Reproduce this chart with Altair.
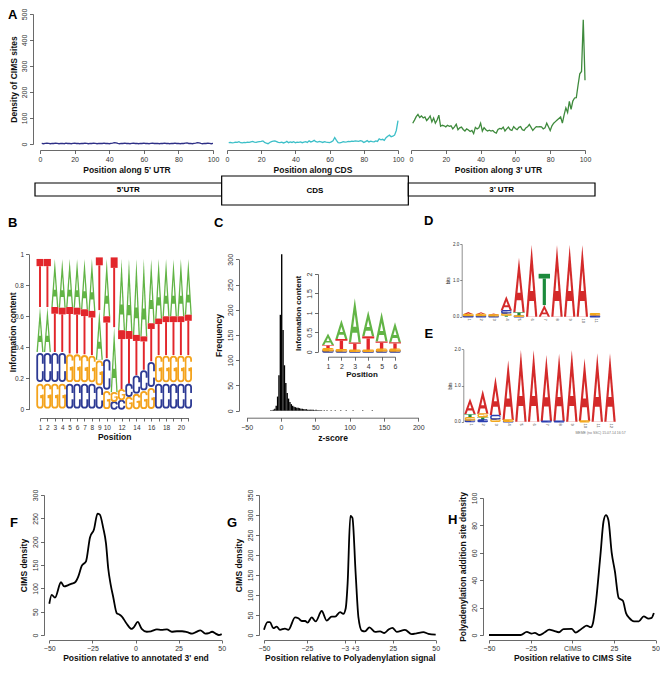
import altair as alt
import pandas as pd

FONT = "Liberation Sans"
AXC = "#444444"

# ---------------- data ----------------
positions = list(range(1, 101))
utr5_density = [2, 1, 2, 3, 2, 1, 2, 2, 3, 2, 1, 2, 2, 1, 3, 2, 2, 1, 2, 3,
                2, 2, 1, 2, 2, 3, 2, 1, 2, 2, 3, 2, 1, 2, 2, 2, 3, 2, 2, 1,
                2, 3, 5, 4, 2, 1, 2, 2, 3, 2, 2, 1, 2, 3, 2, 2, 1, 2, 2, 3,
                2, 2, 1, 2, 3, 2, 2, 2, 1, 2, 2, 3, 2, 2, 1, 2, 2, 3, 2, 2,
                1, 2, 2, 3, 4, 2, 2, 1, 2, 3, 5, 4, 2, 1, 2, 2, 3, 2, 1, 2]
cds_density = [5, 6, 4, 5, 7, 6, 9, 5, 4, 6, 5, 7, 6, 8, 10, 7, 6, 8, 9, 10,
               12, 6, 3, 1, 6, 9, 11, 12, 9, 6, 5, 7, 4, 6, 10, 5, 8, 6, 9, 5,
               7, 6, 8, 5, 7, 9, 6, 12, 8, 10, 14, 9, 7, 10, 8, 6, 9, 7, 6, 5,
               8, 12, 25, 14, 5, 4, 6, 9, 7, 8, 10, 9, 11, 10, 12, 11, 10, 13, 11, 6,
               9, 13, 8, 11, 9, 8, 12, 10, 20, 16, 18, 14, 24, 30, 34, 28, 30, 34, 52, 90]
utr3_density = [80, 92, 105, 114, 102, 108, 100, 104, 90, 98, 108, 85, 100, 80, 92, 111, 68, 72, 70, 66,
                72, 68, 70, 58, 66, 76, 55, 62, 65, 56, 50, 58, 54, 48, 52, 40, 64, 58, 62, 80,
                50, 63, 55, 50, 53, 50, 52, 45, 42, 56, 60, 58, 65, 50, 58, 65, 55, 52, 67, 60,
                55, 64, 67, 55, 52, 62, 66, 75, 64, 52, 60, 67, 66, 67, 66, 58, 62, 80, 66, 52,
                70, 80, 86, 92, 98, 104, 80, 112, 139, 121, 164, 133, 165, 177, 178, 226, 270, 279, 478, 245]

gene_parts = ["5\u2019UTR", "CDS", "3\u2019 UTR"]
gene_start = [0, 1, 2]
gene_end = [1, 2, 3]
gene_low = [9, 0, 9]
gene_high = [22, 29, 22]

# panel B logo (probability, 21 positions)
B_A = [.29, .29, .31, .315, .31, .315, .325, .335, .32, .37, .42, .46, .465, .49, .50, .415, .385, .37, .37, .37, .36]
B_C = [.20, .20, .20, .20, .17, .17, .17, .17, .15, .21, .05, .06, .085, .12, .135, .17, .17, .17, .17, .17, .17]
B_G = [.17, .17, .17, .17, .19, .19, .185, .18, .17, .12, .06, .07, .08, .10, .12, .14, .18, .18, .18, .18, .18]
B_T = [.31, .31, .29, .285, .30, .295, .29, .285, .34, .27, .45, .38, .34, .26, .215, .245, .235, .25, .25, .25, .26]

# panel C histogram of z-scores
hist_left = [-16, -14, -12, -10, -8, -6, -4, -2, 0, 2, 4, 6, 8, 10, 12, 14, 16, 18, 20, 22,
             24, 26, 28, 30, 32, 34, 36, 38, 40, 42, 44, 46, 48, 50, 52, 54, 56, 58,
             62, 66, 72, 78, 86, 94, 104, 118, 132]
hist_count = [1, 1, 2, 4, 10, 28, 70, 190, 310, 160, 90, 55, 35, 24, 17, 13, 10, 8, 7, 6,
              6, 5, 4, 4, 3, 3, 3, 2, 2, 2, 2, 2, 1, 2, 1, 1, 1, 1,
              1, 1, 1, 1, 1, 1, 1, 1, 1]

# panel C inset logo (bits, 6 positions)
I_A = [.30, .50, 1.14, .66, .76, .52]
I_C = [.03, .02, .015, .015, .02, .02]
I_G = [.04, .025, .02, .02, .04, .04]
I_T = [.10, .28, .20, .36, .20, .18]

# panel D logo (bits, 11 positions)
D_A = [.07, .06, .04, .40, 1.50, 1.97, .32, 1.97, 1.97, 1.97, .03]
D_C = [.01, .01, .01, .07, .01, 0, 0, 0, 0, 0, .01]
D_G = [.03, .03, .02, .06, .012, 0, 0, 0, 0, 0, .03]
D_T = [.02, .02, .015, .04, .10, 0, .86, 0, 0, 0, .01]

# panel E logo (bits, 12 positions)
E_A = [.44, .66, 1.07, 1.65, 1.98, 1.98, 1.83, 1.86, 1.98, 1.73, 1.89, 1.89]
E_C = [.04, .05, .11, .01, 0, 0, .015, .015, 0, 0, 0, 0]
E_G = [.07, .09, .06, .04, 0, 0, 0, 0, 0, .02, 0, 0]
E_T = [.10, .08, .01, 0, 0, 0, 0, 0, 0, 0, 0, 0]

# panels F, G, H density curves
F_x = [-50, -48.6, -46.7, -43.2, -41.4, -39, -37, -35, -33.2, -31.2, -28.7, -26.4, -24.1, -22, -20.7,
       -18.7, -17.1, -15.8, -14.4, -12.9, -10.9, -9.4, -8, -5.1, -2.2, -0.9, 1.3, 3.6, 6.5, 9, 12.4,
       15, 18.2, 21, 24, 27, 30, 32.8, 35, 37.6, 40.5, 42.5, 44.4, 46.5, 48.3, 50]
F_y = [67, 86, 80, 113, 104, 107, 110, 113, 125, 148, 158, 209, 226, 260, 258,
       229, 196, 142, 108, 81, 47, 44, 40, 24, 13, 17, 28, 13, 7, 8, 12,
       11, 12, 7, 8, 8, 6, 3, 6, 10, 3, 4, 7, 3, 0, 2]
G_x = [-50, -47.9, -46.5, -44.6, -42.6, -40.7, -37.8, -35.8, -31.9, -30, -28, -26, -24.6, -22.2,
       -19.9, -16.4, -13.5, -10.6, -8.6, -5.7, -3.8, -2.4, -1.3, 0.3, 1.5, 3.4, 5, 6.9, 8.8, 11.4,
       14.7, 17.6, 20.1, 22.4, 24.8, 27.3, 32.1, 36, 38.9, 42.8, 45.7, 50]
G_y = [13, 32, 32, 17, 21, 13, 16, 13, 44, 42, 35, 35, 31, 44,
       34, 60, 36, 46, 46, 57, 53, 67, 129, 298, 293, 152, 44, 11, 9, 19,
       8, 9, 5, 13, 18, 8, 13, 2, 4, 7, 3, 1]
H_x = [-50, -31, -27.3, -24.4, -22.5, -19.6, -16.7, -13.8, -11, -8, -5.2, -0.4, 2.1, 4.4, 6.3,
       8.7, 11.2, 12.5, 14, 16.9, 18.8, 20.2, 21.7, 23.7, 25.6, 27.9, 30.4, 32.3, 34.2, 37.1,
       40, 42.9, 45.8, 47.7, 49]
H_y = [0, 0, 2.3, 1, 1.6, 0, 1.8, 3.9, 3, 2, 4.3, 4.5, 1.8, 3.4, 5.2,
       6.8, 5.7, 9, 21.6, 58, 83, 87.5, 84, 60, 46.6, 27, 25, 16, 12.5, 10,
       10, 13.6, 12, 12.5, 16]

# ---------------- layout ----------------
COLW = [200, 200, 252]
ROWH = [160, 52, 263, 180]
H3 = ROWH[2]
H4 = ROWH[3]

PAL_B = {"A": "#62B446", "C": "#2D3A94", "G": "#F4A31C", "T": "#E2262B"}
PAL_M = {"A": "#D42A2A", "C": "#2A3DB0", "G": "#F2A81D", "T": "#1C8A3C"}


def axis(**kw):
    base = dict(grid=False, domainColor=AXC, tickColor=AXC, labelColor="#333333",
                labelFont=FONT, labelFontSize=7, titleFont=FONT, titleFontSize=8.5,
                titleFontWeight="bold", titleColor="#111111", tickSize=3.5,
                labelPadding=2, titlePadding=3, domainWidth=0.8, tickWidth=0.8,
                labelOverlap=False, labelFlush=False)
    base.update(kw)
    return alt.Axis(**base)


def yaxis_rot(values, title, offset, **kw):
    return axis(orient="left", values=values, title=title, offset=offset,
                labelAngle=270, labelAlign="center", labelBaseline="bottom", **kw)


def sc(domain, rng):
    return alt.Scale(domain=domain, range=rng, nice=False, zero=False)


def ptitle(letter, dx, dy):
    return alt.TitleParams(text=letter, anchor="start", frame="group", orient="top",
                           fontSize=13, fontWeight="bold", font=FONT, color="black",
                           offset=0, dx=dx, dy=dy)


def line_chart(xs, ys, color, sw, xscale, yscale, xaxis, yaxis, w, h, title=None, interp="linear"):
    df = pd.DataFrame({"x": xs, "y": ys})
    ch = alt.Chart(df).mark_line(color=color, strokeWidth=sw, interpolate=interp).encode(
        x=alt.X("x:Q", scale=xscale, axis=xaxis),
        y=alt.Y("y:Q", scale=yscale, axis=yaxis))
    props = dict(width=w, height=h)
    if title is not None:
        props["title"] = title
    return ch.properties(**props)


def logo_tables(heights, hw):
    letters = list(heights.keys())
    n = len(heights[letters[0]])
    t = {k: [] for k in ["A", "hole", "tbar", "tstem", "ring", "cgap", "ggap", "gbar"]}
    gid = 0
    for i in range(n):
        p = i + 1
        items = sorted((heights[L][i], k, L) for k, L in enumerate(letters) if heights[L][i] > 0)
        b = 0.0
        for h, _, L in items:
            gid += 1
            if L == "A":
                t["A"] += [dict(gid=gid, letter=L, xa=p - hw, ya=b, yb=b),
                           dict(gid=gid, letter=L, xa=p, ya=b + h, yb=b),
                           dict(gid=gid, letter=L, xa=p + hw, ya=b, yb=b)]
                c0 = b + 0.36 * h
                t["hole"] += [dict(gid="c%d" % gid, xa=p - 0.26 * hw, ya=c0, yb=c0),
                              dict(gid="c%d" % gid, xa=p, ya=b + 0.64 * h, yb=c0),
                              dict(gid="c%d" % gid, xa=p + 0.26 * hw, ya=c0, yb=c0)]
                t["hole"] += [dict(gid="l%d" % gid, xa=p - 0.62 * hw, ya=b, yb=b),
                              dict(gid="l%d" % gid, xa=p - 0.40 * hw, ya=b + 0.22 * h, yb=b),
                              dict(gid="l%d" % gid, xa=p + 0.40 * hw, ya=b + 0.22 * h, yb=b),
                              dict(gid="l%d" % gid, xa=p + 0.62 * hw, ya=b, yb=b)]
            elif L == "T":
                t["tbar"].append(dict(letter=L, xa=p - hw, xb=p + hw, ya=b + 0.85 * h, yb=b + h))
                t["tstem"].append(dict(letter=L, xa=p - 0.28 * hw, xb=p + 0.28 * hw, ya=b, yb=b + 0.85 * h))
            else:
                t["ring"].append(dict(letter=L, xa=p - 0.8 * hw, xb=p + 0.8 * hw,
                                      ya=b + 0.06 * h, yb=b + 0.94 * h))
                if L == "C":
                    t["cgap"].append(dict(xa=p + 0.2 * hw, xb=p + 1.1 * hw, ya=b + 0.38 * h, yb=b + 0.62 * h))
                else:
                    t["ggap"].append(dict(xa=p + 0.2 * hw, xb=p + 1.1 * hw, ya=b + 0.56 * h, yb=b + 0.76 * h))
                    t["gbar"].append(dict(letter=L, xa=p + 0.05 * hw, xb=p + 0.8 * hw,
                                          ya=b + 0.42 * h, yb=b + 0.54 * h))
            b += h
    return t


def logo_layers(heights, palette, hw, sw, cr, X, Y):
    t = logo_tables(heights, hw)
    cs = alt.Scale(domain=list(palette.keys()), range=list(palette.values()))
    col = alt.Color("letter:N", scale=cs, legend=None)
    out = []

    def ch(rows):
        return alt.Chart(pd.DataFrame(rows))

    if t["A"]:
        out.append(ch(t["A"]).mark_area(orient="vertical", interpolate="linear", opacity=1).encode(
            x=X(), y=Y(), y2=alt.Y2("yb"), detail="gid:N", color=col))
    if t["hole"]:
        out.append(ch(t["hole"]).mark_area(orient="vertical", interpolate="linear", color="white", opacity=1).encode(
            x=X(), y=Y(), y2=alt.Y2("yb"), detail="gid:N"))
    for key in ["tbar", "tstem"]:
        if t[key]:
            out.append(ch(t[key]).mark_rect().encode(x=X(), x2=alt.X2("xb"), y=Y(), y2=alt.Y2("yb"), color=col))
    if t["ring"]:
        out.append(ch(t["ring"]).mark_rect(fillOpacity=0, strokeWidth=sw, cornerRadius=cr).encode(
            x=X(), x2=alt.X2("xb"), y=Y(), y2=alt.Y2("yb"),
            stroke=alt.Stroke("letter:N", scale=cs, legend=None)))
    for key in ["cgap", "ggap"]:
        if t[key]:
            out.append(ch(t[key]).mark_rect(color="white").encode(x=X(), x2=alt.X2("xb"), y=Y(), y2=alt.Y2("yb")))
    if t["gbar"]:
        out.append(ch(t["gbar"]).mark_rect().encode(x=X(), x2=alt.X2("xb"), y=Y(), y2=alt.Y2("yb"), color=col))
    return out


# ---------------- Row 1: panel A ----------------
yA = sc([0, 500], [136, 6])
xax_A = lambda t: axis(orient="bottom", values=[0, 20, 40, 60, 80, 100], title=t, offset=142 - ROWH[0])
A1 = line_chart(positions, utr5_density, "#2E2F86", 1.3, sc([0, 100], [32, 205]), yA,
                xax_A("Position along 5' UTR"),
                yaxis_rot([0, 100, 200, 300, 400, 500], "Density of CIMS sites", -25, titlePadding=2),
                COLW[0], ROWH[0], title=ptitle("A", 0, 14))
A2 = line_chart(positions, cds_density, "#3CBFC8", 1.3, sc([0, 100], [19, 190]), yA,
                xax_A("Position along CDS"), None, COLW[1], ROWH[0])
A3 = line_chart(positions, utr3_density, "#3E8A3C", 1.3, sc([0, 100], [3, 177]), yA,
                xax_A("Position along 3' UTR"), None, COLW[2], ROWH[0])

# ---------------- Row 2: gene structure ----------------
df_gene = pd.DataFrame({"part": gene_parts, "s": gene_start, "e": gene_end,
                        "lo": gene_low, "hi": gene_high})
df_gene["mid"] = (df_gene["s"] + df_gene["e"]) / 2
df_gene["ym"] = (df_gene["lo"] + df_gene["hi"]) / 2
xg = sc([0, 3], [27, 587])
yg = sc([0, 29], [37, 8])
gene_boxes = alt.Chart(df_gene).mark_rect(fill="white", stroke="black", strokeWidth=1.2).encode(
    x=alt.X("s:Q", scale=xg, axis=None), x2=alt.X2("e"),
    y=alt.Y("lo:Q", scale=yg, axis=None), y2=alt.Y2("hi"))
gene_text = alt.Chart(df_gene).mark_text(font=FONT, fontSize=8, fontWeight="bold", baseline="middle").encode(
    x=alt.X("mid:Q", scale=xg, axis=None), y=alt.Y("ym:Q", scale=yg, axis=None), text="part:N")
gene = alt.layer(gene_boxes, gene_text).properties(width=COLW[0], height=ROWH[1])


def spacer(w, h):
    return alt.Chart(alt.Data(values=[{"s": 0}])).mark_point(opacity=0).encode(
        x=alt.X("s:Q", axis=None), y=alt.Y("s:Q", axis=None)).properties(width=w, height=h)


# ---------------- Row 3: panels B, C, D/E ----------------
xB = sc([1, 21], [32, 180.3])
yB = sc([0, 1], [189.3, 34.3])
axB_x = axis(orient="bottom", values=list(range(1, 22)), title="Position", offset=198 - H3,
             labelFontSize=6.5, tickSize=3, labelPadding=3, titlePadding=2,
             labelExpr="(datum.value <= 10 || datum.value % 2 == 0) ? datum.label : ''")
axB_y = axis(orient="left", values=[0, 0.2, 0.4, 0.6, 0.8, 1], format="~g", title="Information content",
             offset=-21, labelFontSize=6.5, titleX=-11.5, titleY=111.8)
B_layers = logo_layers({"A": B_A, "C": B_C, "G": B_G, "T": B_T}, PAL_B, 0.47, 1.8, 3,
                       lambda: alt.X("xa:Q", scale=xB, axis=axB_x),
                       lambda: alt.Y("ya:Q", scale=yB, axis=axB_y))
Bc = alt.layer(*B_layers).properties(width=COLW[0], height=H3, title=ptitle("B", 0, 10))

# panel C
df_hist = pd.DataFrame({"zl": hist_left, "n": hist_count})
df_hist["zr"] = df_hist["zl"] + 2
df_hist["z0"] = 0
xC = sc([-50, 200], [38.7, 210.3])
yC = sc([0, 300], [190.7, 39.3])
hist = alt.Chart(df_hist).mark_rect(color="black").encode(
    x=alt.X("zl:Q", scale=xC, axis=axis(orient="bottom", values=[-50, 0, 50, 100, 150, 200],
                                        title="z-score", offset=197.7 - H3)),
    x2=alt.X2("zr"),
    y=alt.Y("n:Q", scale=yC, axis=yaxis_rot([0, 50, 100, 150, 200, 250, 300], "Frequency", -31)),
    y2=alt.Y2("z0"))
xI = sc([1, 6], [120, 187])
yI = sc([0, 2], [131.7, 54])
axI_x = axis(orient="bottom", values=[1, 2, 3, 4, 5, 6], title="Position", offset=136.7 - H3,
             titlePadding=1, titleFontSize=8)
axI_y = yaxis_rot([0, 0.5, 1, 1.5, 2], "Information content", -110, format="~g", titleFontSize=8)
I_layers = logo_layers({"A": I_A, "C": I_C, "G": I_G, "T": I_T}, PAL_B, 0.45, 2.0, 4,
                       lambda: alt.X("xa:Q", scale=xI, axis=axI_x),
                       lambda: alt.Y("ya:Q", scale=yI, axis=axI_y))
Cc = alt.layer(hist, alt.layer(*I_layers)).resolve_scale(x="independent", y="independent").properties(
    width=COLW[1], height=H3, title=ptitle("C", 6, 10))

# panels D and E
tiny = dict(labelFontSize=4.5, tickSize=2, labelPadding=1, titleFontSize=4.5,
            titleFontWeight="normal", titlePadding=2, domainWidth=0.6, tickWidth=0.6)
xD = sc([1, 11], [60.3, 187])
yD = sc([0, 2], [96.7, 24])
axD_x = axis(orient="bottom", values=list(range(1, 12)), offset=97 - H3, domain=False, ticks=False,
             labelAngle=90, labelAlign="left", labelBaseline="middle", labelFontSize=4, labelPadding=1,
             title="E", titleX=16, titleY=10, titleAlign="left", titleBaseline="top", titleAngle=0,
             titleFontSize=13, titleFontWeight="bold", titleColor="black")
axD_y = axis(orient="left", values=[0, 1, 2], title="bits", offset=-53.7, **tiny)
xE = sc([1, 12], [62, 202])
yE = sc([0, 2], [201.7, 129.3])
axE_x = axis(orient="bottom", values=list(range(1, 13)), offset=202 - H3, domain=False, ticks=False,
             labelAngle=90, labelAlign="left", labelBaseline="middle", labelFontSize=4, labelPadding=1,
             title="MEME (no SSC) 15.07.14 16:57", titleFontSize=3.5, titleFontWeight="normal",
             titleColor="#777777", titleX=192, titleY=8, titleAngle=0, titleAlign="center")
axE_y = axis(orient="left", values=[0, 1, 2], title="bits", offset=-55.3, **tiny)
D_layers = logo_layers({"A": D_A, "C": D_C, "G": D_G, "T": D_T}, PAL_M, 0.45, 1.5, 4,
                       lambda: alt.X("xa:Q", scale=xD, axis=axD_x),
                       lambda: alt.Y("ya:Q", scale=yD, axis=axD_y))
E_layers = logo_layers({"A": E_A, "C": E_C, "G": E_G, "T": E_T}, PAL_M, 0.45, 1.5, 4,
                       lambda: alt.X("xa:Q", scale=xE, axis=axE_x),
                       lambda: alt.Y("ya:Q", scale=yE, axis=axE_y))
DE = alt.layer(alt.layer(*D_layers), alt.layer(*E_layers)).resolve_scale(
    x="independent", y="independent").properties(width=COLW[2], height=H3, title=ptitle("D", 16, 7.5))

# ---------------- Row 4: panels F, G, H ----------------
ax4 = dict(offset=157 - H4, tickSize=3, labelPadding=1.5, titlePadding=1.5)
Fc = line_chart(F_x, F_y, "black", 1.8, sc([-50, 50], [41.3, 213.7]), sc([0, 300], [152, 12]),
                axis(orient="bottom", values=[-50, -25, 0, 25, 50],
                     title="Position relative to annotated 3' end", **ax4),
                yaxis_rot([0, 50, 100, 150, 200, 250, 300], "CIMS density", -36),
                COLW[0], H4, title=ptitle("F", 2, 47), interp="monotone")
Gc = line_chart(G_x, G_y, "black", 1.8, sc([-50, 50], [56, 227.7]), sc([0, 350], [152, 12]),
                axis(orient="bottom", values=[-50, -25, -3, 3, 25, 50],
                     labelExpr="datum.value == 3 ? '+3' : datum.label",
                     title="Position relative to Polyadenylation signal", **ax4),
                yaxis_rot([0, 50, 100, 150, 200, 250, 300, 350], "CIMS density", -51),
                COLW[1], H4, title=ptitle("G", 19, 47), interp="monotone")
Hc = line_chart(H_x, H_y, "black", 1.8, sc([-50, 50], [81, 247.5]), sc([0, 100], [152, 15]),
                axis(orient="bottom", values=[-50, -25, 0, 25, 50],
                     labelExpr="datum.value == 0 ? 'CIMS' : datum.label",
                     title="Position relative to CIMS Site", **ax4),
                yaxis_rot([0, 20, 40, 60, 80, 100], "Polyadenylation addition site density", -75),
                COLW[2], H4, title=ptitle("H", 40, 44), interp="monotone")

chart = alt.concat(
    A1, A2, A3,
    gene, spacer(COLW[1], ROWH[1]), spacer(COLW[2], ROWH[1]),
    Bc, Cc, DE,
    Fc, Gc, Hc,
    columns=3, spacing=0, bounds="flush", align="each"
).resolve_scale(color="independent", stroke="independent").properties(
    padding=0, background="white").configure_view(stroke=None)

chart.save("out.html", embed_options={"renderer": "svg", "actions": False})
